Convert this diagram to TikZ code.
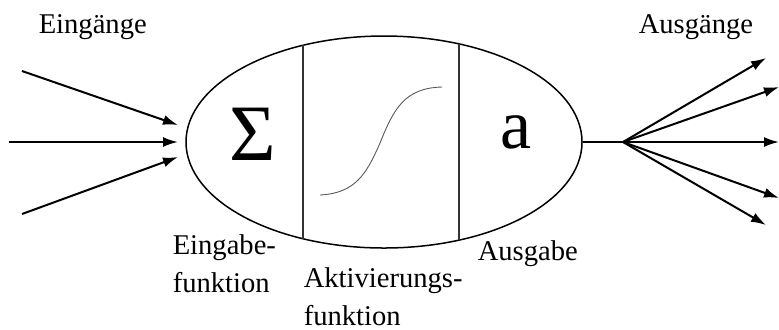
\documentclass[tikz,border=0pt]{standalone}
\usepackage{fontspec}
\setmainfont{Liberation Serif}
\usetikzlibrary{arrows.meta,shapes.geometric}
\tikzset{
  pfeil/.style={line width=1pt, -{Latex[length=7.5pt,width=5pt]}},
  beschriftung/.style={font=\fontsize{14.3}{19}\selectfont, inner sep=0pt, align=left},
  symbol/.style={inner sep=0pt, anchor=base},
}
\begin{document}
\begin{tikzpicture}[x=0.5pt, y=-0.5pt, line width=0.75pt]
  \useasboundingbox (0,0) rectangle (779,329);
  % Neuron
  \node[draw, ellipse, minimum width=198pt, minimum height=106pt, inner sep=0pt] (neuron) at (384,142) {};
  \draw[black!80] (303,45) -- (303,239);
  \draw[black!80] (459,44) -- (459,240);
  \node[symbol, font=\fontsize{40}{40}\selectfont] (summe) at (253,160) {Σ};
  \node[symbol, font=\fontsize{35}{35}\selectfont] (ausgabe) at (516,148) {a};
  % Aktivierungskurve
  \draw[gray!70!black, line width=0.45pt] (320,195) .. controls (355,193) and (366,175) .. (380,143)
    .. controls (394,108) and (405,88) .. (442,87);
  % Eingänge
  \coordinate (in1) at (22,71);
  \coordinate (in2) at (9,142);
  \coordinate (in3) at (22,214);
  \coordinate (e1) at (178,125);
  \coordinate (e2) at (178,142);
  \coordinate (e3) at (178,157);
  \draw[pfeil] (in1) -- (e1);
  \draw[pfeil] (in2) -- (e2);
  \draw[pfeil] (in3) -- (e3);
  % Ausgänge
  \coordinate (knoten) at (623,142);
  \coordinate (out1) at (766,58);
  \coordinate (out2) at (779,87);
  \coordinate (out3) at (779,142);
  \coordinate (out4) at (779,198);
  \coordinate (out5) at (766,225);
  \draw[line width=1pt] (neuron.east) -- (knoten);
  \draw[pfeil] (knoten) -- (out1);
  \draw[pfeil] (knoten) -- (out2);
  \draw[pfeil] (knoten) -- (out3);
  \draw[pfeil] (knoten) -- (out4);
  \draw[pfeil] (knoten) -- (out5);
  % Beschriftungen
  \node[beschriftung, anchor=base west] (eingaenge) at (38,33) {Eingänge};
  \node[beschriftung, anchor=base west] (ausgaenge) at (638,33) {Ausgänge};
  \node[beschriftung, anchor=base west] (eingabefkt) at (172,292) {Eingabe-\\funktion};
  \node[beschriftung, anchor=base west] (aktivfkt) at (303,325) {Aktivierungs-\\funktion};
  \node[beschriftung, anchor=base west] (ausgabetxt) at (477,260) {Ausgabe};
\end{tikzpicture}
\end{document}
